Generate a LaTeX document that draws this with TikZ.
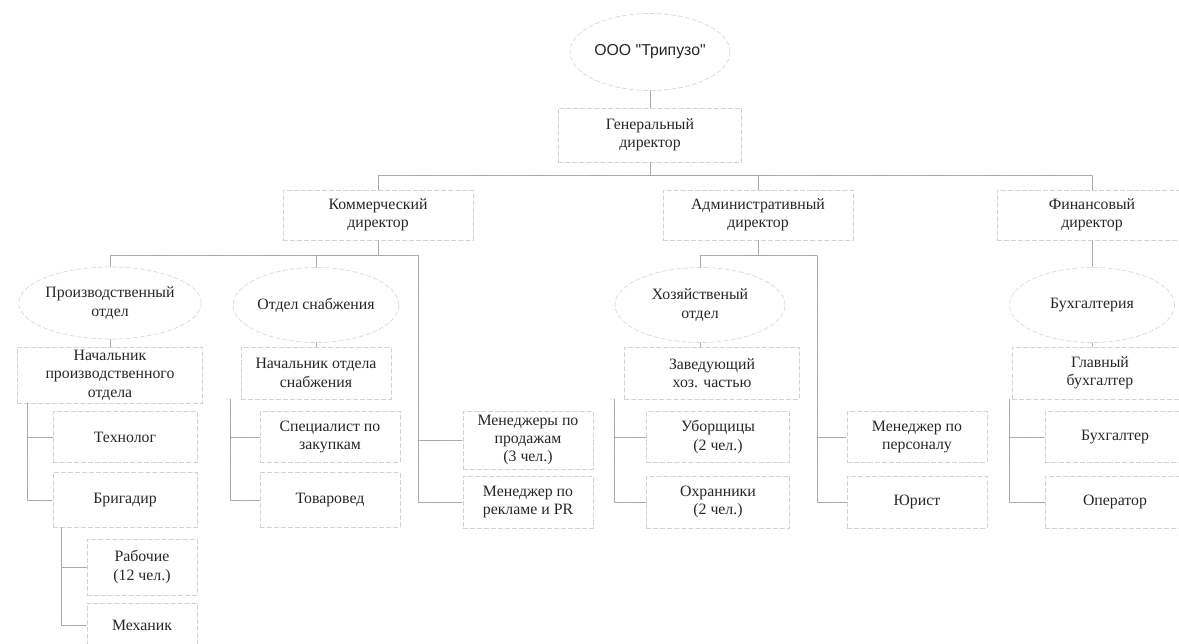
\documentclass[tikz,border=0pt]{standalone}
\usepackage{fontspec}
\setmainfont{Liberation Serif}
\newfontfamily\orgfont{Liberation Sans}
\usetikzlibrary{shapes.geometric}
\begin{document}
\begin{tikzpicture}[x=0.02cm,y=-0.02cm,line cap=round,line join=round,
  every node/.style={text=black!85,font=\fontsize{9}{10.5}\selectfont,align=center,inner sep=0pt},
  box/.style 2 args={draw=gray!35,line width=0.4pt,dash pattern=on 2.5pt off 1.5pt,
    minimum width=#1*0.02cm,minimum height=#2*0.02cm},
  oval/.style 2 args={ellipse,draw=gray!30,line width=0.4pt,dash pattern=on 2.5pt off 1.5pt,
    minimum width=#1*0.02cm,minimum height=#2*0.02cm},
  link/.style={draw=gray!70,line width=0.5pt,dash pattern=on 1.2pt off 0.5pt}]
  \useasboundingbox (0,0) rectangle (1179,644);
  % top
  \node[oval={160}{77},font=\orgfont\fontsize{9}{11}\selectfont] (org) at (650,52) {ООО "Трипузо"};
  \node[box={183}{54}] (gen) at (650,135) {Генеральный\\директор};
  \node[box={190}{50}] (com) at (378,215) {Коммерческий\\директор};
  \node[box={190}{50}] (adm) at (758,215) {Административный\\директор};
  \node[box={190}{50}] (fin) at (1092,215) {Финансовый\\директор};
  % departments
  \node[oval={175}{72}] (prod) at (110,303) {Производственный\\отдел};
  \node[oval={165}{75}] (snab) at (316,305) {Отдел снабжения};
  \node[oval={170}{75}] (hoz) at (700,305) {Хозяйственый\\отдел};
  \node[oval={165}{75}] (buh) at (1092,305) {Бухгалтерия};
  \node[box={185}{56}] (nprod) at (110,375) {Начальник\\производственного\\отдела};
  \node[box={150}{52}] (nsnab) at (316,373) {Начальник отдела\\снабжения};
  \node[box={175}{52}] (zav) at (712,373) {Заведующий\\хоз. частью};
  \node[box={175}{52}] (glav) at (1100,373) {Главный\\бухгалтер};
  % staff
  \node[box={144}{51}] (tech) at (125,437) {Технолог};
  \node[box={144}{55}] (brig) at (125,500) {Бригадир};
  \node[box={110}{56}] (rab) at (142,567) {Рабочие\\(12 чел.)};
  \node[box={110}{44}] (mech) at (142,625) {Механик};
  \node[box={140}{51}] (spec) at (330,437) {Специалист по\\закупкам};
  \node[box={140}{55}] (tovar) at (330,500) {Товаровед};
  \node[box={130}{58}] (msales) at (528,440) {Менеджеры по\\продажам\\(3 чел.)};
  \node[box={130}{52}] (mpr) at (528,502) {Менеджер по\\рекламе и PR};
  \node[box={143}{51}] (ubor) at (718,437) {Уборщицы\\(2 чел.)};
  \node[box={143}{52}] (ohr) at (718,502) {Охранники\\(2 чел.)};
  \node[box={140}{51}] (pers) at (917,437) {Менеджер по\\персоналу};
  \node[box={140}{52}] (jur) at (917,502) {Юрист};
  \node[box={140}{51}] (buhg) at (1115,437) {Бухгалтер};
  \node[box={140}{52}] (oper) at (1115,502) {Оператор};
  % links
  \draw[link] (org) -- (gen);
  \draw[link] (gen.south) -- ++(0,13) coordinate (gb);
  \draw[link] (com.north) |- (gb) -| (fin.north);
  \draw[link] (adm.north) |- (gb);
  \draw[link] (com.south) -- ++(0,15) coordinate (cb) -- ++(40,0) coordinate (cs) |- (mpr.west);
  \draw[link] (prod.north) |- (cb);
  \draw[link] (snab.north) |- (cb);
  \draw[link] (cs |- msales.west) -- (msales.west);
  \draw[link] (adm.south) -- ++(0,15) coordinate (ab) -- ++(59,0) coordinate (as) |- (jur.west);
  \draw[link] (hoz.north) |- (ab);
  \draw[link] (as |- pers.west) -- (pers.west);
  \draw[link] (fin) -- (buh);
  \draw[link] (prod) -- (nprod);
  \draw[link] (snab) -- (nsnab);
  \draw[link] (hoz.south) -- (hoz.south |- zav.north);
  \draw[link] (buh.south) -- (buh.south |- glav.north);
  \draw[link] (nprod.south west) ++(10,0) coordinate (np) |- (brig.west);
  \draw[link] (np |- tech.west) -- (tech.west);
  \draw[link] (brig.south west) ++(9,0) coordinate (bp) |- (mech.west);
  \draw[link] (bp |- rab.west) -- (rab.west);
  \draw[link] (nsnab.south west) ++(-10,0) coordinate (ns) |- (tovar.west);
  \draw[link] (ns |- spec.west) -- (spec.west);
  \draw[link] (zav.south west) ++(-10,0) coordinate (zv) |- (ohr.west);
  \draw[link] (zv |- ubor.west) -- (ubor.west);
  \draw[link] (glav.south west) ++(-3,0) coordinate (gl) |- (oper.west);
  \draw[link] (gl |- buhg.west) -- (buhg.west);
\end{tikzpicture}
\end{document}
